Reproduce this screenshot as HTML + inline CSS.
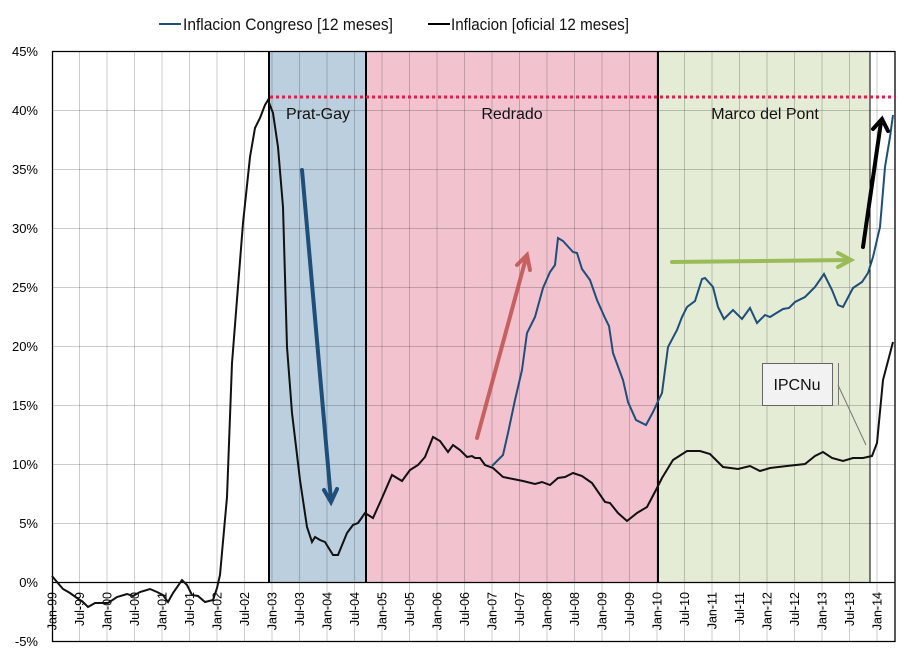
<!DOCTYPE html>
<html><head><meta charset="utf-8"><style>body{margin:0;background:#fff}svg{display:block;font-family:"Liberation Sans",sans-serif}</style></head><body>
<svg width="910" height="661" viewBox="0 0 910 661">
<rect width="910" height="661" fill="#fff"/>
<rect x="269" y="51" width="97" height="531" fill="#bccfdf"/>
<rect x="366" y="51" width="292" height="531" fill="#f2c3cf"/>
<rect x="658" y="51" width="212" height="531" fill="#e4ecd5"/>
<g stroke="#000" stroke-opacity="0.2" stroke-width="1">
<path d="M52 110.5H895M52 169.5H895M52 228.5H895M52 287.5H895M52 346.5H895M52 405.5H895M52 464.5H895M52 523.5H895"/>
</g>
<g stroke="#000" stroke-opacity="0.2" stroke-width="1" id="vgrid"></g>
<g font-size="13" text-anchor="end" fill="#000">
<text x="38" y="56">45%</text><text x="38" y="115">40%</text><text x="38" y="174">35%</text><text x="38" y="233">30%</text><text x="38" y="292">25%</text><text x="38" y="351">20%</text><text x="38" y="410">15%</text><text x="38" y="469">10%</text><text x="38" y="528">5%</text><text x="38" y="587">0%</text><text x="38" y="646">-5%</text>
</g>
<g id="xl" font-size="12.5" fill="#000" text-anchor="end"></g>
<path d="M52 51.5H895V641.5H52.5V51" fill="none" stroke="#000" stroke-width="1.3"/>
<path d="M52 582.5H895" stroke="#000" stroke-width="1.3"/>
<g stroke="#000" stroke-width="2"><path d="M269 51V582M366 51V582M658 51V582"/></g>
<path d="M870 51V582" stroke="#000" stroke-width="1"/>
<path d="M270 97H895" stroke="#e0204a" stroke-width="3" stroke-dasharray="3,3"/>
<g font-size="16" text-anchor="middle" fill="#111"><text x="318" y="119">Prat-Gay</text><text x="512" y="119">Redrado</text><text x="765" y="119">Marco del Pont</text></g>
<polyline fill="none" stroke="#1f4e79" stroke-width="2" points="492,466 503,455 508,433 515,400 522,370 527,333 535,317 543,288 550,272 555,265 558,238 563,241 573,252 577,253 582,269 590,280 597,300 605,318 609,326 613,353 623,380 628,402 636,420 646,425 653,412 660,397 662,393 668,347 677,330 682,317 687,307 695,301 702,279 705,278 713,287 718,307 724,319 733,310 742,319 750,308 757,323 765,315 770,317 783,309 789,308 795,302 805,297 815,287 824,274 832,290 838,305 843,307 853,288 862,282 868,273 873,257 880,227 885,167 890,137 893,115"/>
<polyline fill="none" stroke="#111" stroke-width="2" points="52,576 57,582 63,589 70,593 77,598 83,602 88,607 95,603 102,603 108,603 117,597 127,594 133,596 140,592 150,589 157,592 163,595 168,602 173,593 182,580 187,585 192,595 198,596 205,602 213,600 217,588 220,575 227,497 232,363 243,223 250,157 255,128 260,118 265,105 268,100 273,113 278,147 283,207 287,347 292,413 300,480 307,527 312,542 315,537 320,540 325,542 333,555 338,555 347,533 353,525 358,523 365,513 373,518 382,498 392,475 402,481 410,470 418,465 425,457 433,437 440,441 448,452 453,445 460,450 467,457 472,456 475,458 480,458 485,465 493,468 503,477 513,479 523,481 535,484 542,482 550,485 558,478 565,477 573,473 582,476 592,483 605,502 610,503 618,513 627,521 637,513 647,507 657,488 662,478 673,460 687,451 700,451 710,454 723,467 738,469 750,466 760,471 770,468 787,466 805,464 815,456 823,452 832,458 843,461 853,458 863,458 872,456 877,443 883,380 893,342"/>
<g stroke-width="4" fill="none" stroke-linecap="round">
<path d="M302 170L331 500M324 490L331 502L337 489" stroke="#1f4e79"/>
<path d="M477 438L526 258M517 265L527 255L530 270" stroke="#c0504d" stroke-opacity="0.85"/>
<path d="M672 262L850 260M838 253L851 260L838 267" stroke="#9bbb59"/>
<path d="M863 247L881 122M873 129L882 119L888 131" stroke="#000"/>
</g>
<rect x="762.5" y="363.5" width="70" height="42" fill="#f2f2f2" stroke="#666"/>
<text x="797" y="390" font-size="16" text-anchor="middle" fill="#111">IPCNu</text>
<path d="M838.5 363V405M838 385L866 445" stroke="#777" stroke-width="1" fill="none"/>
<path d="M159 24H181" stroke="#1f4e79" stroke-width="2"/>
<text x="183" y="30" font-size="17" textLength="210" lengthAdjust="spacingAndGlyphs" fill="#111">Inflacion Congreso [12 meses]</text>
<path d="M428 24H450" stroke="#000" stroke-width="2"/>
<text x="451" y="30" font-size="17" textLength="178" lengthAdjust="spacingAndGlyphs" fill="#111">Inflacion [oficial 12 meses]</text>
<script>
var ns="http://www.w3.org/2000/svg",g=document.getElementById("vgrid"),xl=document.getElementById("xl");
for(var i=0;i<=30;i++){var x=52+i*27.5;if(i>0){var l=document.createElementNS(ns,"line");l.setAttribute("x1",x);l.setAttribute("x2",x);l.setAttribute("y1",51);l.setAttribute("y2",641);g.appendChild(l);}
var t=document.createElementNS(ns,"text");var yr=(99+Math.floor(i/2))%100;var s=(i%2?"Jul-":"Jan-")+(yr<10?"0":"")+yr;t.textContent=s;t.setAttribute("transform","translate("+(x+4.5)+",592) rotate(-90)");xl.appendChild(t);}
</script>
</svg>
</body></html>
